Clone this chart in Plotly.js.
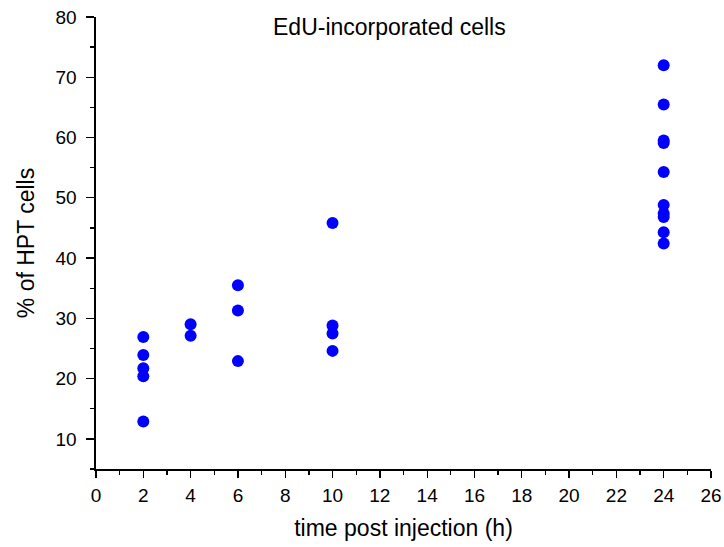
<!DOCTYPE html>
<html>
<head>
<meta charset="utf-8">
<script src="https://cdn.plot.ly/plotly-3.0.1.min.js"></script>
<style>html,body{margin:0;padding:0;background:#fff;}#chart{width:724px;height:547px;}</style>
</head>
<body>
<div id="chart"></div>
<script>
const timeHours = [2,2,2,2,2, 4,4, 6,6,6, 10,10,10,10, 24,24,24,24,24,24,24,24,24,24];
const percentHPT = [26.9,23.9,21.7,20.4,12.9, 29.0,27.1, 35.5,31.3,22.9, 45.8,28.8,27.5,24.6, 72.0,65.5,59.5,59.1,54.3,48.8,47.4,46.8,44.3,42.4];
const xTicks = [0,2,4,6,8,10,12,14,16,18,20,22,24,26];
const yTicks = [10,20,30,40,50,60,70,80];

const fontFam = 'Liberation Sans, Arial, sans-serif';
const trace = {
  x: timeHours, y: percentHPT, type: 'scatter', mode: 'markers',
  marker: {color: '#0000ff', size: 12}, hoverinfo: 'skip'
};
const layout = {
  width: 724, height: 547,
  margin: {l: 96, r: 13, t: 17, b: 78},
  paper_bgcolor: '#fff', plot_bgcolor: '#fff',
  showlegend: false,
  font: {family: fontFam, color: '#000'},
  xaxis: {
    range: [0, 26], tickmode: 'array', tickvals: xTicks, ticktext: xTicks.map(String),
    ticks: 'outside', ticklen: 7, tickwidth: 1.3, tickcolor: '#000',
    showline: true, linecolor: '#000', linewidth: 1.6, showgrid: false, zeroline: false,
    tickfont: {size: 19, family: fontFam}, ticklabelstandoff: 2,
    minor: {dtick: 1, tick0: 0, ticks: 'outside', ticklen: 4, tickcolor: '#000', showgrid: false},
    title: {text: 'time post injection (h)', font: {size: 23, family: fontFam}, standoff: 14}
  },
  yaxis: {
    range: [5, 80], tickmode: 'array', tickvals: yTicks, ticktext: yTicks.map(String),
    ticks: 'outside', ticklen: 8, tickwidth: 1.3, tickcolor: '#000',
    showline: true, linecolor: '#000', linewidth: 1.6, showgrid: false, zeroline: false,
    tickfont: {size: 19, family: fontFam}, ticklabelstandoff: 6,
    minor: {dtick: 5, tick0: 0, ticks: 'outside', ticklen: 4, tickcolor: '#000', showgrid: false},
    title: {text: '% of HPT cells', font: {size: 23, family: fontFam}, standoff: 14}
  },
  annotations: [{
    text: 'EdU-incorporated cells', xref: 'paper', yref: 'paper', x: 0.477, y: 0.978,
    xanchor: 'center', yanchor: 'middle', showarrow: false,
    font: {size: 23, family: fontFam, color: '#000'}
  }]
};
Plotly.newPlot('chart', [trace], layout, {staticPlot: true, displayModeBar: false});
</script>
</body>
</html>
